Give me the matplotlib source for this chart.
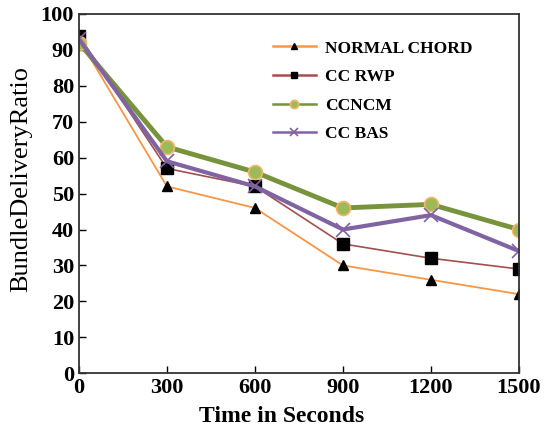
import matplotlib.pyplot as plt

# data
time_s = [0, 300, 600, 900, 1200, 1500]
normal_chord = [93, 52, 46, 30, 26, 22]
cc_rwp = [94, 57, 52, 36, 32, 29]
ccncm = [92, 63, 56, 46, 47, 40]
cc_bas = [93, 59, 52, 40, 44, 34]

plt.rcParams['font.family'] = 'Liberation Serif'

fig = plt.figure(figsize=(5.48, 4.37), dpi=100)
ax = fig.add_axes([0.144, 0.146, 0.803, 0.822])

ax.plot(time_s, normal_chord, color='#F79646', lw=1.3, marker='^',
        ms=7, mfc='black', mec='black', label='NORMAL CHORD')
ax.plot(time_s, cc_rwp, color='#A0504D', lw=1.2, marker='s',
        ms=8, mfc='black', mec='black', label='CC RWP')
ax.plot(time_s, ccncm, color='#77933C', lw=3.5, marker='o',
        ms=10, mfc='#9BBB59', mec='#F5B46A', mew=1.2, label='CCNCM')
ax.plot(time_s, cc_bas, color='#8064A2', lw=3, marker='x',
        ms=10, mew=1.2, label='CC BAS')

ax.set_xlim(0, 1500)
ax.set_ylim(0, 100)
ax.set_xticks(time_s)
ax.set_yticks(range(0, 101, 10))
ax.tick_params(direction='in', length=5, width=1, labelsize=16)
for lab in ax.get_xticklabels() + ax.get_yticklabels():
    lab.set_fontweight('bold')
for sp in ax.spines.values():
    sp.set_linewidth(1.3)
    sp.set_color('#333333')

ax.set_xlabel('Time in Seconds', fontsize=17, fontweight='bold', labelpad=6)
ax.xaxis.set_label_coords(0.46, -0.09)
ax.set_ylabel('BundleDeliveryRatio', fontsize=19)
ax.yaxis.set_label_coords(-0.107, 0.54)

leg = ax.legend(loc='upper left', bbox_to_anchor=(0.405, 0.97), frameon=False,
                prop={'weight': 'bold', 'size': 12.5}, handlelength=2.5,
                labelspacing=0.72, handletextpad=0.5, markerscale=0.6)
for ln in leg.get_lines():
    ln.set_linewidth(1.8)

fig.savefig('out.png', dpi=100)
